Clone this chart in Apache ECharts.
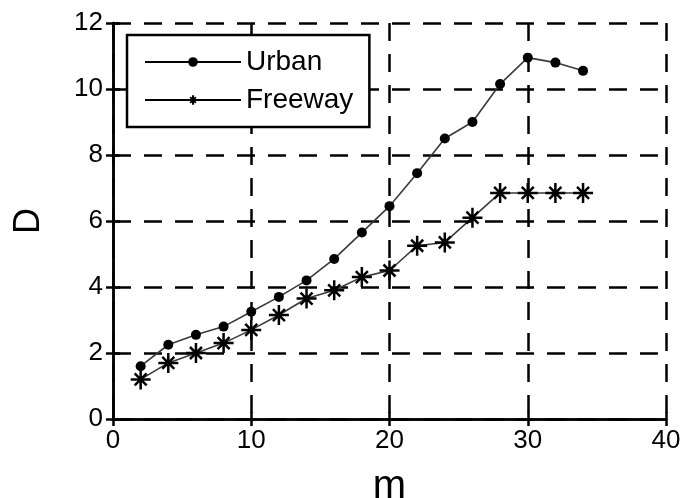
<!DOCTYPE html>
<html>
<head>
<meta charset="utf-8">
<script src="https://cdn.jsdelivr.net/npm/echarts@6/dist/echarts.min.js"></script>
<style>
html, body { margin: 0; padding: 0; background: #fff; }
#chart1 { width: 683px; height: 498px; }
</style>
</head>
<body>
<div id="chart1"></div>
<script>
// data
var mValues = [2, 4, 6, 8, 10, 12, 14, 16, 18, 20, 22, 24, 26, 28, 30, 32, 34];
var urbanD = [1.6, 2.25, 2.55, 2.8, 3.25, 3.7, 4.2, 4.85, 5.65, 6.45, 7.45, 8.5, 9.0, 10.15, 10.95, 10.8, 10.55];
var freewayD = [1.2, 1.7, 2.0, 2.3, 2.7, 3.15, 3.65, 3.9, 4.3, 4.5, 5.25, 5.35, 6.1, 6.85, 6.85, 6.85, 6.85];
var xTicks = [0, 10, 20, 30, 40];
var yTicks = [0, 2, 4, 6, 8, 10, 12];

var pairs = function (xs, ys) {
    var out = [];
    for (var i = 0; i < xs.length; i++) {
        out.push([xs[i], ys[i]]);
    }
    return out;
};

var starPath = 'path://M10,0L10,20M0,10L20,10M4,4L16,16M4,16L16,4';
var fontName = 'Liberation Sans, Arial, sans-serif';
var dashed = { show: true, lineStyle: { color: '#000', width: 2.5, type: [18, 13] } };

var myChart = echarts.init(document.getElementById('chart1'));
var option = {
    animation: false,
    backgroundColor: '#fff',
    grid: { left: 113, right: 17, top: 23, bottom: 79, outerBoundsMode: 'none', containLabel: false },
    legend: {
        left: 127,
        top: 35,
        orient: 'vertical',
        backgroundColor: '#fff',
        borderColor: '#000',
        borderWidth: 2.5,
        borderRadius: 0,
        padding: [13, 16, 13, 17],
        itemWidth: 96,
        itemHeight: 12,
        itemGap: 10,
        lineStyle: { color: '#000', width: 2 },
        textStyle: { fontFamily: fontName, fontSize: 28, color: '#000', lineHeight: 22 },
        data: ['Urban', 'Freeway']
    },
    xAxis: [{
        type: 'value',
        min: 0, max: 40, interval: 10,
        name: 'm',
        nameLocation: 'middle',
        nameGap: 48,
        nameTextStyle: { fontFamily: fontName, fontSize: 40, color: '#000' },
        axisLine: { show: true, lineStyle: { color: '#000', width: 2.5 } },
        axisTick: { show: true, inside: true, length: 7, lineStyle: { color: '#000', width: 2.5 } },
        axisLabel: { fontFamily: fontName, fontSize: 26, color: '#000', margin: 9,
            formatter: function (v) { return xTicks.indexOf(v) >= 0 ? String(v) : ''; } },
        splitLine: dashed
    }, {
        type: 'value', position: 'top',
        min: 0, max: 40, interval: 10,
        axisLine: { show: true, lineStyle: { color: '#000', width: 2.5 } },
        axisTick: { show: true, inside: true, length: 7, lineStyle: { color: '#000', width: 2.5 } },
        axisLabel: { show: false },
        splitLine: { show: false }
    }],
    yAxis: [{
        type: 'value',
        min: 0, max: 12, interval: 2,
        name: 'D',
        nameLocation: 'middle',
        nameRotate: 90,
        nameGap: 66,
        nameTextStyle: { fontFamily: fontName, fontSize: 36, color: '#000' },
        axisLine: { show: true, lineStyle: { color: '#000', width: 2.5 } },
        axisTick: { show: true, inside: true, length: 7, lineStyle: { color: '#000', width: 2.5 } },
        axisLabel: { fontFamily: fontName, fontSize: 26, color: '#000', margin: 10,
            formatter: function (v) { return yTicks.indexOf(v) >= 0 ? String(v) : ''; } },
        splitLine: dashed
    }, {
        type: 'value', position: 'right',
        min: 0, max: 12, interval: 2,
        axisLine: { show: true, lineStyle: { color: '#000', width: 2.5 } },
        axisTick: { show: true, inside: true, length: 7, lineStyle: { color: '#000', width: 2.5 } },
        axisLabel: { show: false },
        splitLine: { show: false }
    }],
    series: [{
        name: 'Urban',
        type: 'line',
        data: pairs(mValues, urbanD),
        symbol: 'circle',
        symbolSize: 10,
        lineStyle: { color: '#3a3a3a', width: 1.6 },
        itemStyle: { color: '#000' },
        z: 3
    }, {
        name: 'Freeway',
        type: 'line',
        data: pairs(mValues, freewayD),
        symbol: starPath,
        symbolSize: 20,
        symbolKeepAspect: true,
        lineStyle: { color: '#3a3a3a', width: 1.6 },
        itemStyle: { color: '#000', borderColor: '#000', borderWidth: 2.5 },
        z: 3
    }]
};
myChart.setOption(option);
</script>
</body>
</html>
